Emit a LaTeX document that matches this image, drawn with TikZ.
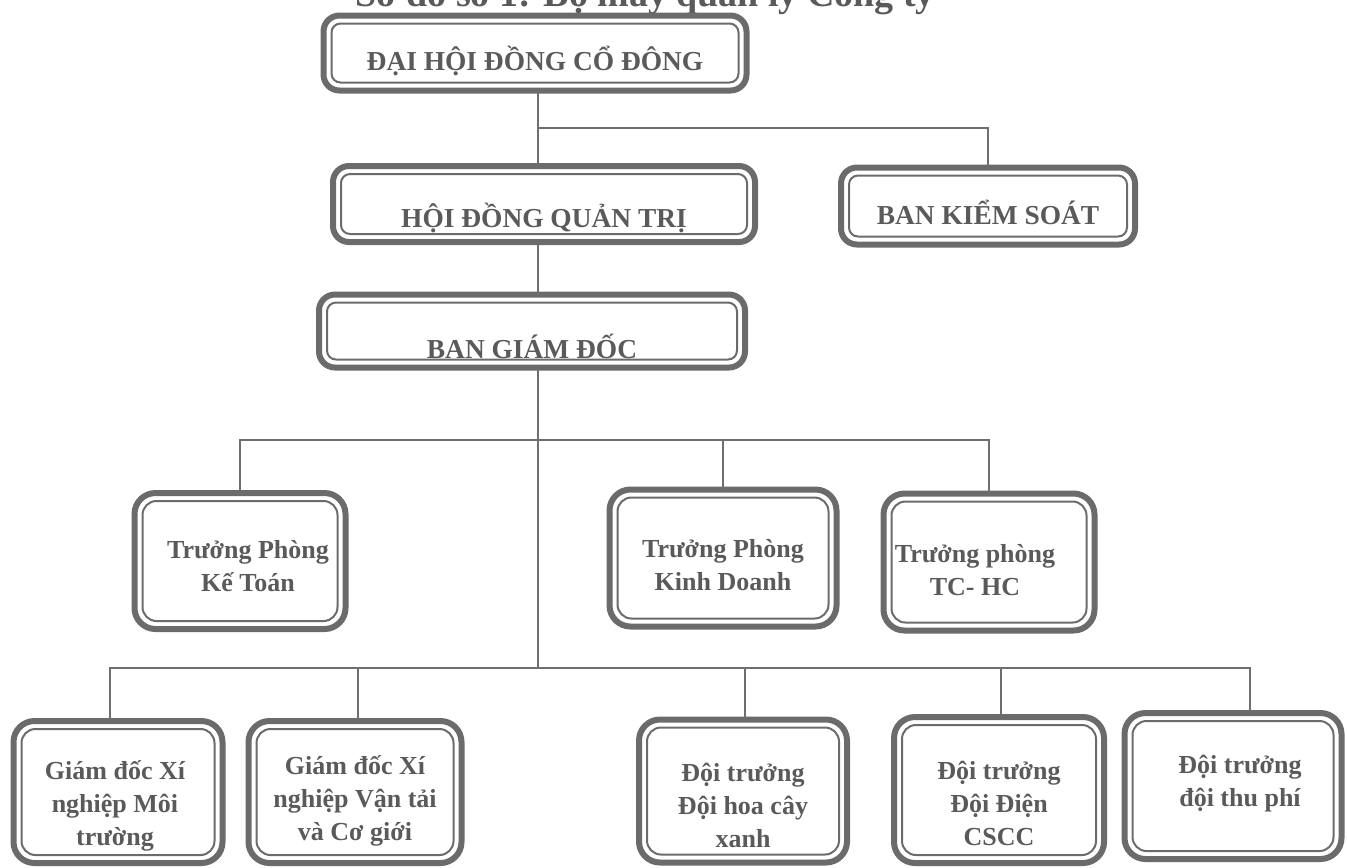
\documentclass[tikz,border=0pt]{standalone}
\usepackage{fontspec}
\setmainfont{Liberation Serif}
\usepackage{xcolor}
\usetikzlibrary{positioning}
\definecolor{boxgray}{HTML}{6B6B6B}
\definecolor{txtgray}{HTML}{5A5A5A}
\definecolor{linegray}{HTML}{6E6E6E}

\begin{document}
\begin{tikzpicture}[x=0.1mm,y=-0.1mm]
    \tikzstyle{topbox}=[draw=boxgray,line width=0.6mm,rounded corners=1.6mm,inner sep=0pt,outer sep=0pt]
    \tikzstyle{subbox}=[draw=boxgray,line width=0.6mm,rounded corners=2.1mm,inner sep=0pt,outer sep=0pt]
    \tikzstyle{toptxt}=[font=\bfseries\fontsize{7.8}{9}\selectfont,text=txtgray]
    \tikzstyle{subtxt}=[font=\bfseries\fontsize{7.4}{9.4}\selectfont,text=txtgray,align=center]
    \tikzstyle{conn}=[draw=linegray,line width=0.2mm]

    \clip (0,0) rectangle (1347,867);

    % title line, cut off by the top edge
    \node[anchor=base,font=\bfseries\fontsize{10.8}{12}\selectfont,text=txtgray] (title) at (645,6) {Sơ đồ số 1: Bộ máy quản lý Công ty};

    % top levels
    \node[topbox,minimum width=42.3mm,minimum height=7.5mm,
          label={[toptxt,yshift=-0.8mm]center:ĐẠI HỘI ĐỒNG CỔ ĐÔNG}] (dhcd) at (535,53) {};
    \node[topbox,minimum width=42.2mm,minimum height=7.6mm,
          label={[toptxt,yshift=-1.4mm]center:HỘI ĐỒNG QUẢN TRỊ}] (hdqt) at (544,204) {};
    \node[topbox,minimum width=29.4mm,minimum height=7.7mm,
          label={[toptxt,yshift=-0.6mm]center:BAN KIỂM SOÁT}] (bks) at (988,206) {};
    \node[topbox,minimum width=42.6mm,minimum height=7.3mm,
          label={[toptxt,yshift=-1.5mm]center:BAN GIÁM ĐỐC}] (bgd) at (532,331) {};

    % phong ban
    \node[subbox,minimum width=21.1mm,minimum height=13.6mm,
          label={[subtxt,xshift=0.8mm,yshift=-0.5mm]center:Trưởng Phòng\\Kế Toán}] (kt) at (240,561) {};
    \node[subbox,minimum width=22.7mm,minimum height=13.7mm,
          label={[subtxt,yshift=-0.7mm]center:Trưởng Phòng\\Kinh Doanh}] (kd) at (723,558) {};
    \node[subbox,minimum width=21.1mm,minimum height=13.7mm,
          label={[subtxt,xshift=-1.4mm,yshift=-0.8mm]center:Trưởng phòng\\TC- HC}] (tc) at (989,562) {};

    % xi nghiep, doi
    \node[subbox,minimum width=20.9mm,minimum height=14.2mm,
          label={[subtxt,xshift=-0.3mm,yshift=-1.4mm]center:Giám đốc Xí\\nghiệp Môi\\trường}] (mt) at (118,792) {};
    \node[subbox,minimum width=21.3mm,minimum height=14.2mm,
          label={[subtxt,yshift=-0.9mm]center:Giám đốc Xí\\nghiệp Vận tải\\và Cơ giới}] (vt) at (355,792) {};
    \node[subbox,minimum width=20.8mm,minimum height=14.3mm,
          label={[subtxt,yshift=-1.4mm]center:Đội trưởng\\Đội hoa cây\\xanh}] (hoa) at (743,791) {};
    \node[subbox,minimum width=21.0mm,minimum height=14.6mm,
          label={[subtxt,yshift=-1.3mm]center:Đội trưởng\\Đội Điện\\CSCC}] (dien) at (999,790) {};
    \node[subbox,minimum width=21.7mm,minimum height=14.6mm,
          label={[subtxt,xshift=0.7mm,yshift=0.2mm]center:Đội trưởng\\đội thu phí}] (thu) at (1233,786) {};

    % inner thin frame
    \foreach \n in {dhcd,hdqt,bks,bgd}
        \draw[boxgray,line width=0.2mm,rounded corners=0.9mm]
            ([shift={(0.8mm,0.8mm)}]\n.south west) rectangle ([shift={(-0.8mm,-0.8mm)}]\n.north east);
    \foreach \n in {kt,kd,tc,mt,vt,hoa,dien,thu}
        \draw[boxgray,line width=0.2mm,rounded corners=1.4mm]
            ([shift={(0.8mm,0.8mm)}]\n.south west) rectangle ([shift={(-0.8mm,-0.8mm)}]\n.north east);

    % connectors
    \coordinate (j1) at (538,128);
    \coordinate (j2) at (538,440);
    \coordinate (j3) at (538,668);
    \draw[conn] (dhcd.south -| j1) -- (hdqt.north -| j1);
    \draw[conn] (j1) -| (bks.north);
    \draw[conn] (hdqt.south -| j1) -- (bgd.north -| j1);
    \draw[conn] (bgd.south -| j1) -- (j3);
    \foreach \n in {kt,kd,tc}
        \draw[conn] (j2) -| (\n.north);
    \foreach \n/\dx in {mt/-0.8mm,vt/0.25mm,hoa/0.2mm,dien/0.2mm,thu/1.7mm}
        \draw[conn] (j3) -| ([xshift=\dx]\n.north);
\end{tikzpicture}
\end{document}
